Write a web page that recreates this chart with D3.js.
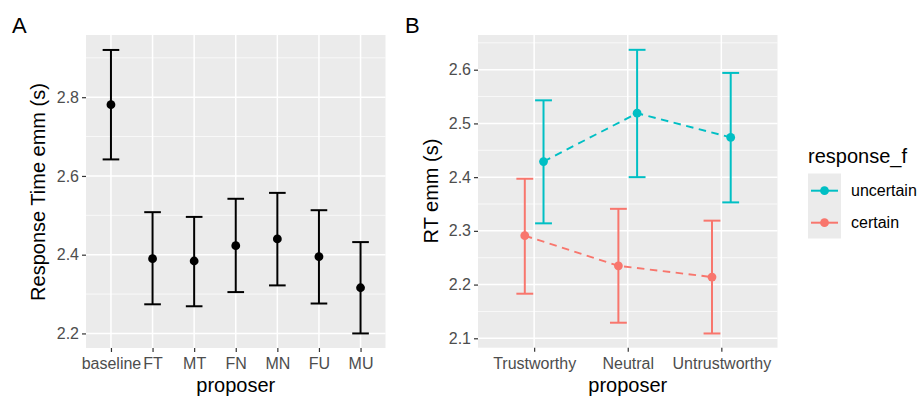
<!DOCTYPE html>
<html>
<head>
<meta charset="utf-8">
<script src="https://cdn.jsdelivr.net/npm/d3@7"></script>
<style>
html,body{margin:0;padding:0;background:#fff;}
svg{display:block;font-family:"Liberation Sans",Arial,sans-serif;}
</style>
</head>
<body>
<svg id="chart" width="918" height="396"></svg>
<script>
// ---- Panel A data ----
const catsA = ["baseline","FT","MT","FN","MN","FU","MU"];
const meanA = [2.781,2.390,2.384,2.423,2.440,2.395,2.316];
const lowA  = [2.642,2.274,2.269,2.305,2.322,2.276,2.200];
const highA = [2.920,2.508,2.496,2.542,2.557,2.513,2.432];
const ticksA = [2.2,2.4,2.6,2.8];
const minorA = [2.3,2.5,2.7,2.9];

// ---- Panel B data ----
const catsB = ["Trustworthy","Neutral","Untrustworthy"];
const groupsB = ["uncertain","certain"];
const meanUnc = [2.429,2.519,2.474];
const lowUnc  = [2.314,2.400,2.353];
const highUnc = [2.543,2.637,2.594];
const meanCer = [2.291,2.235,2.214];
const lowCer  = [2.183,2.129,2.109];
const highCer = [2.397,2.341,2.319];
const ticksB = [2.1,2.2,2.3,2.4,2.5,2.6];
const minorB = [2.15,2.25,2.35,2.45,2.55,2.65];
const colorsB = ["#00BFC4","#F8766D"];

const svg = d3.select("#chart");
const tickCol = "#4D4D4D";

function panel(opts){
  const g = svg.append("g");
  const {x0,x1,y0,y1,cats,ydom,ticks,minor} = opts;
  g.append("rect").attr("x",x0).attr("y",y0).attr("width",x1-x0).attr("height",y1-y0).attr("fill","#EBEBEB");
  const x = d3.scalePoint().domain(cats).range([x0,x1]).padding(0.6);
  const y = d3.scaleLinear().domain(ydom).range([y1,y0]);
  g.selectAll(".mn").data(minor).join("line")
    .attr("x1",x0).attr("x2",x1).attr("y1",d=>y(d)).attr("y2",d=>y(d))
    .attr("stroke","#fff").attr("stroke-width",0.7);
  g.selectAll(".mj").data(ticks).join("line")
    .attr("x1",x0).attr("x2",x1).attr("y1",d=>y(d)).attr("y2",d=>y(d))
    .attr("stroke","#fff").attr("stroke-width",1.5);
  g.selectAll(".vx").data(cats).join("line")
    .attr("y1",y0).attr("y2",y1).attr("x1",d=>x(d)).attr("x2",d=>x(d))
    .attr("stroke","#fff").attr("stroke-width",1.5);
  // axes
  const ya = d3.axisLeft(y).tickValues(ticks).tickSize(4).tickPadding(3).tickFormat(d3.format(".1f"));
  const ga = g.append("g").attr("transform",`translate(${x0},0)`).call(ya);
  const xa = d3.axisBottom(x).tickSize(4).tickPadding(5.5);
  const gx = g.append("g").attr("transform",`translate(0,${y1})`).call(xa);
  [ga,gx].forEach(a=>{
    a.select(".domain").remove();
    a.selectAll(".tick line").attr("stroke","#333").attr("stroke-width",1.2);
    a.selectAll(".tick text").attr("fill",tickCol).attr("font-size",16).attr("font-family","Liberation Sans, Arial, sans-serif");
  });
  gx.selectAll(".tick text").attr("dy","0.72em");
  return {g,x,y};
}

// Panel A
const A = panel({x0:86,x1:385.5,y0:35,y1:348,cats:catsA,ydom:[2.163,2.958],ticks:ticksA,minor:minorA});
const capA = 0.4*A.x.step()/2;
catsA.forEach((c,i)=>{
  const cx = A.x(c);
  A.g.append("line").attr("x1",cx).attr("x2",cx).attr("y1",A.y(lowA[i])).attr("y2",A.y(highA[i])).attr("stroke","#000").attr("stroke-width",2);
  [lowA[i],highA[i]].forEach(v=>A.g.append("line").attr("x1",cx-capA).attr("x2",cx+capA).attr("y1",A.y(v)).attr("y2",A.y(v)).attr("stroke","#000").attr("stroke-width",2));
  A.g.append("circle").attr("cx",cx).attr("cy",A.y(meanA[i])).attr("r",4.4).attr("fill","#000");
});

// Panel B
const B = panel({x0:478,x1:777.5,y0:35,y1:347.7,cats:catsB,ydom:[2.0825,2.6646],ticks:ticksB,minor:minorB});
const dodge = 0.1*B.x.step();
const capB = 0.18*B.x.step()/2;
const seriesB = [
  {name:groupsB[0],mean:meanUnc,low:lowUnc,high:highUnc,col:colorsB[0],off:dodge},
  {name:groupsB[1],mean:meanCer,low:lowCer,high:highCer,col:colorsB[1],off:-dodge}
];
seriesB.slice().reverse().forEach(s=>{
  const line = d3.line().x((d,i)=>B.x(catsB[i])+s.off).y(d=>B.y(d));
  B.g.append("path").attr("d",line(s.mean)).attr("fill","none").attr("stroke",s.col).attr("stroke-width",1.9).attr("stroke-dasharray","7.5,5.5");
  catsB.forEach((c,i)=>{
    const cx = B.x(c)+s.off;
    B.g.append("line").attr("x1",cx).attr("x2",cx).attr("y1",B.y(s.low[i])).attr("y2",B.y(s.high[i])).attr("stroke",s.col).attr("stroke-width",2);
    [s.low[i],s.high[i]].forEach(v=>B.g.append("line").attr("x1",cx-capB).attr("x2",cx+capB).attr("y1",B.y(v)).attr("y2",B.y(v)).attr("stroke",s.col).attr("stroke-width",2));
    B.g.append("circle").attr("cx",cx).attr("cy",B.y(s.mean[i])).attr("r",4.4).attr("fill",s.col);
  });
});

// Titles
svg.append("text").attr("x",12).attr("y",33).attr("font-size",22).text("A");
svg.append("text").attr("x",405).attr("y",33).attr("font-size",22).text("B");
svg.append("text").attr("transform","translate(44.5,192) rotate(-90)").attr("text-anchor","middle").attr("font-size",20).text("Response Time emm (s)");
svg.append("text").attr("transform","translate(437.5,191) rotate(-90)").attr("text-anchor","middle").attr("font-size",20).text("RT emm (s)");
svg.append("text").attr("x",(86+385.5)/2).attr("y",392).attr("text-anchor","middle").attr("font-size",20).text("proposer");
svg.append("text").attr("x",(478+777.5)/2).attr("y",392).attr("text-anchor","middle").attr("font-size",20).text("proposer");

// Legend
svg.append("text").attr("x",808).attr("y",163).attr("font-size",20).text("response_f");
svg.append("rect").attr("x",808).attr("y",173.5).attr("width",33).attr("height",65).attr("fill","#EBEBEB");
const ly = [190.7,222.7];
groupsB.forEach((nm,i)=>{
  svg.append("line").attr("x1",811).attr("x2",838).attr("y1",ly[i]).attr("y2",ly[i]).attr("stroke",colorsB[i]).attr("stroke-width",2);
  svg.append("circle").attr("cx",824.5).attr("cy",ly[i]).attr("r",4.4).attr("fill",colorsB[i]);
  svg.append("text").attr("x",851).attr("y",ly[i]+5.5).attr("font-size",16).attr("fill","#000").text(nm);
});
</script>
</body>
</html>
